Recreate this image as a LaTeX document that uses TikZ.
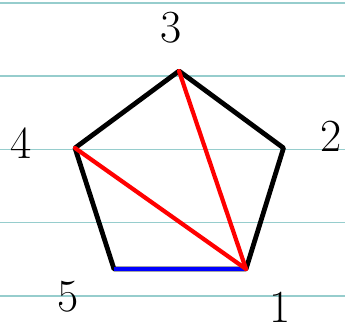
\documentclass[tikz,border=0pt]{standalone}
\usepackage{fontspec}
\begin{document}
\begin{tikzpicture}[x=1pt,y=-1pt,
  rule/.style={draw={rgb,255:red,150;green,205;blue,205}, line width=1.2pt},
  edge/.style={line width=4.8pt, line cap=round, line join=round},
  lbl/.style={font=\fontsize{46}{46}\selectfont, inner sep=0pt}]
\useasboundingbox (0,0) rectangle (345,330);
\fill[white] (0,0) rectangle (345,330);
\foreach \y in {3,76,149.5,222.5,296} \draw[rule] (0,\y) -- (345,\y);
\coordinate (v3) at (179,71);
\coordinate (v2) at (283.5,148);
\coordinate (v1) at (246,269);
\coordinate (v5) at (114,269);
\coordinate (v4) at (75,148);
\draw[edge] (v3) -- (v2) -- (v1) -- (v5) -- (v4) -- cycle;
\draw[edge, blue, line width=4.2pt, line cap=butt] (v5) -- (v1);
\draw[edge, red, line width=4.2pt] (v3) -- (v1);
\draw[edge, red, line width=4.2pt] (v4) -- (v1);
\node[lbl] (l3) at (171,28) {3};
\node[lbl] (l2) at (331,136) {2};
\node[lbl] (l1) at (280,307) {1};
\node[lbl] (l5) at (68,297) {5};
\node[lbl] (l4) at (21,143) {4};
\end{tikzpicture}
\end{document}
